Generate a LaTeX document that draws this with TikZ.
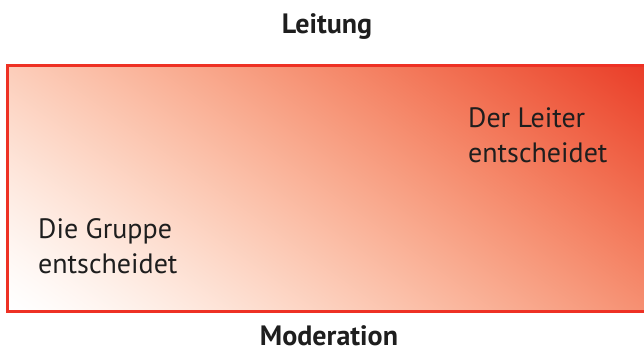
\documentclass[tikz,border=0pt]{standalone}
\usepackage{fontspec}
\setmainfont{PT Sans}
\pgfdeclarefunctionalshading{diagred}{\pgfpoint{-50bp}{-50bp}}{\pgfpoint{50bp}{50bp}}{}{
25 add 50 div 0.35 mul exch 25 add 50 div 0.65 mul add
dup 0 lt {pop 0} if dup 1 gt {pop 1} if
1.3 exp
dup dup 14 mul 8 add mul 255 exch sub 255 div
1 index 195 mul 255 exch sub 255 div
2 index dup 75 mul 290 sub mul 255 add 255 div
4 3 roll pop
}
\definecolor{frame}{RGB}{238,49,36}
\definecolor{ink}{RGB}{30,30,30}
\tikzset{
  title/.style={font=\bfseries\fontsize{28}{32}\selectfont, text=ink, inner sep=0pt, anchor=base},
  label/.style={font=\fontsize{28}{35}\selectfont, text=ink, inner sep=0pt, anchor=base west, align=left},
}
\begin{document}
\begin{tikzpicture}[x=1pt,y=-1pt]
\useasboundingbox (0,0) rectangle (644,350);
\shade[shading=diagred] (7.5,65.5) rectangle (647,311.5);
\draw[frame, line width=3pt] (7.5,65.5) rectangle (647,311.5);
\node[title] (lt) at (327,34) {Leitung};
\node[title] (md) at (329,345) {Moderation};
\node[label] (dl) at (468,162) {Der Leiter\\entscheidet};
\node[label] (dg) at (38,273) {Die Gruppe\\entscheidet};
\end{tikzpicture}
\end{document}
